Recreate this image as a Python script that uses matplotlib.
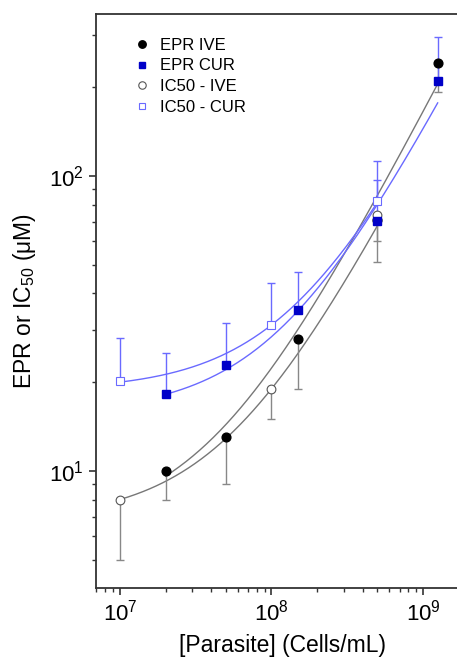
import numpy as np
import matplotlib.pyplot as plt

plt.rcParams['font.family'] = ['Liberation Sans', 'DejaVu Sans']
plt.rcParams['mathtext.default'] = 'regular'

# EPR measurements
epr_x = [2e7, 5e7, 1.5e8, 5e8, 1.25e9]
epr_ive = [10.0, 13.0, 28.0, 71.0, 242.0]
epr_ive_low = [8.0, 9.0, 19.0, 51.0, 192.0]      # lower end of error bar
epr_cur = [18.2, 22.8, 35.2, 70.3, 210.0]
epr_cur_high = [25.2, 31.8, 47.2, 96.6, 295.0]   # upper end of error bar

# IC50 measurements
ic50_x = [1e7, 1e8, 5e8]
ic50_ive = [8.0, 19.0, 73.8]
ic50_ive_low = [5.0, 15.0, 60.0]
ic50_cur = [20.2, 31.3, 82.2]
ic50_cur_high = [28.2, 43.3, 112.0]

# linear fits y = a + b*x
fit_epr_ive = (6.42, 1.589e-7)
fit_epr_cur = (15.6, 1.29e-7)
fit_ic50_ive = (6.78, 1.22e-7)
fit_ic50_cur = (18.75, 1.25e-7)

blue = '#0000c8'
light_blue = '#6a6aff'
grey = '#777777'

fig = plt.figure(figsize=(4.57, 6.63), dpi=100)
ax = fig.add_axes([96 / 457, 75 / 663, 372.6 / 457, 574 / 663])
ax.set_xscale('log')
ax.set_yscale('log')


def fit_line(xs, p, color):
    xx = np.logspace(np.log10(xs[0]), np.log10(xs[-1]), 200)
    ax.plot(xx, p[0] + p[1] * xx, color=color, lw=1.0, zorder=1)


fit_line(epr_x, fit_epr_ive, grey)
fit_line(epr_x, fit_epr_cur, light_blue)
fit_line(ic50_x, fit_ic50_ive, grey)
fit_line(ic50_x, fit_ic50_cur, light_blue)

# one-sided error bars
def err(y, end, down):
    y = np.array(y)
    end = np.array(end)
    if down:
        return [y - end, np.zeros_like(y)]
    return [np.zeros_like(y), end - y]


ekw = dict(fmt='none', elinewidth=1.0, capsize=3, capthick=1.0, zorder=2)
ax.errorbar(epr_x, epr_ive, yerr=err(epr_ive, epr_ive_low, True), ecolor='#888888', **ekw)
ax.errorbar(ic50_x, ic50_ive, yerr=err(ic50_ive, ic50_ive_low, True), ecolor='#888888', **ekw)
ax.errorbar(epr_x, epr_cur, yerr=err(epr_cur, epr_cur_high, False), ecolor=light_blue, **ekw)
ax.errorbar(ic50_x, ic50_cur, yerr=err(ic50_cur, ic50_cur_high, False), ecolor=light_blue, **ekw)

ax.plot(epr_x, epr_ive, 'o', color='black', ms=6.3, ls='none', label='EPR IVE', zorder=3)
ax.plot(epr_x, epr_cur, 's', color=blue, ms=5.2, ls='none', label='EPR CUR', zorder=4)
ax.plot(ic50_x, ic50_ive, 'o', mfc='white', mec='#555555', mew=0.8, ms=6.3, ls='none',
        label='IC50 - IVE', zorder=3)
ax.plot(ic50_x, ic50_cur, 's', mfc='white', mec=light_blue, mew=0.8, ms=5.2, ls='none',
        label='IC50 - CUR', zorder=3)

ax.set_xlim(6.95e6, 2e9)
ax.set_ylim(4.01, 354)

for s in ax.spines.values():
    s.set_color('#333333')
    s.set_linewidth(1.3)
ax.tick_params(which='both', direction='out', top=False, right=False, color='#333333',
               labelcolor='black', labelsize=16)
ax.tick_params(which='major', length=5, width=1.2)
ax.tick_params(which='minor', length=3, width=1.0)

ax.set_xlabel('[Parasite] (Cells/mL)', fontsize=16.5, labelpad=6)
ax.set_ylabel('EPR or IC$_{50}$ ($\\mu$M)', fontsize=16.5, labelpad=8)

ax.legend(loc='upper left', frameon=False, fontsize=12, labelspacing=0.35,
          handlelength=1.0, handletextpad=0.6, markerscale=0.85,
          bbox_to_anchor=(0.06, 0.985))

fig.savefig('out.png', dpi=100)
